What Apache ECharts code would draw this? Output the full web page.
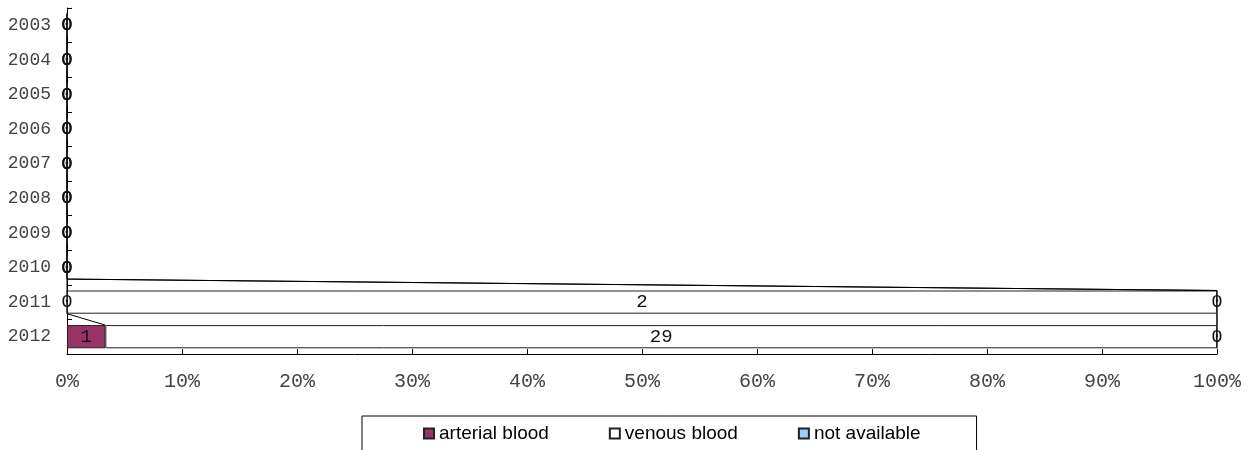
<!DOCTYPE html>
<html>
<head>
<meta charset="utf-8">
<script src="https://cdn.jsdelivr.net/npm/echarts@6/dist/echarts.min.js"></script>
<style>
html,body{margin:0;padding:0;background:#fff;}
#chart{width:1254px;height:450px;}
</style>
</head>
<body>
<div id="chart"></div>
<script>
const years = ['2003','2004','2005','2006','2007','2008','2009','2010','2011','2012'];
const arterial = [0,0,0,0,0,0,0,0,0,1];
const venous   = [0,0,0,0,0,0,0,0,2,29];
const notAvail = [0,0,0,0,0,0,0,0,0,0];
const seriesNames = ['arterial blood','venous blood','not available'];
const xTicks = [0,10,20,30,40,50,60,70,80,90,100];

const raw = [arterial, venous, notAvail];
const totals = years.map((_, i) => raw.reduce((s, a) => s + a[i], 0));
const pct = raw.map(a => a.map((v, i) => totals[i] ? v / totals[i] * 100 : 0));
// cumulative ends per series
const cum = pct.map((a, s) => a.map((v, i) => pct.slice(0, s + 1).reduce((t, b) => t + b[i], 0)));

const colors = ['#993366', '#ffffff', '#99ccff'];
const GAP = 0.33;

const barSeries = seriesNames.map((name, s) => ({
  name: name,
  type: 'bar',
  stack: 'total',
  barCategoryGap: (GAP * 100) + '%',
  data: pct[s].map((v, i) => ({ value: v, raw: raw[s][i] })),
  itemStyle: { color: colors[s], borderColor: '#222', borderWidth: 1 },
  label: {
    show: true,
    position: 'inside',
    formatter: p => String(p.data.raw),
    fontFamily: 'Liberation Mono',
    fontSize: 19,
    color: '#111'
  },
  emphasis: { disabled: true },
  z: 2
}));

const lineData = [];
for (let s = 0; s < seriesNames.length; s++) {
  for (let i = 0; i < years.length - 1; i++) {
    lineData.push([cum[s][i], cum[s][i + 1], i]);
  }
}

const seriesLines = {
  type: 'custom',
  name: 'serieslines',
  renderItem: function (params, api) {
    const x0 = api.value(0), x1 = api.value(1), c = api.value(2);
    const p0 = api.coord([x0, c]);
    const p1 = api.coord([x1, c + 1]);
    const band = api.size([0, 1])[1];
    const h = band * (1 - GAP) / 2;
    return {
      type: 'line',
      shape: { x1: p0[0], y1: p0[1] + h, x2: p1[0], y2: p1[1] - h },
      style: { stroke: '#000', lineWidth: 1 }
    };
  },
  encode: { x: [0, 1], y: 2 },
  data: lineData,
  clip: false,
  silent: true,
  z: 3
};

const chart = echarts.init(document.getElementById('chart'), null, { renderer: 'canvas' });
chart.setOption({
  animation: false,
  backgroundColor: '#fff',
  grid: { left: 67, right: 37, top: 8, bottom: 96, containLabel: false },
  xAxis: {
    type: 'value',
    min: 0, max: 100, interval: 10,
    axisLine: { show: true, lineStyle: { color: '#000', width: 1 } },
    axisTick: { show: true, inside: true, length: 5, lineStyle: { color: '#000' } },
    splitLine: { show: false },
    axisLabel: {
      formatter: v => xTicks.includes(v) ? v + '%' : '',
      fontFamily: 'Liberation Mono',
      fontSize: 20,
      color: '#444',
      margin: 18
    }
  },
  yAxis: {
    type: 'category',
    data: years,
    inverse: true,
    axisLine: { show: true, lineStyle: { color: '#000', width: 1 } },
    axisTick: { show: true, inside: true, length: 5, alignWithLabel: false, lineStyle: { color: '#000' } },
    axisLabel: {
      fontFamily: 'Liberation Mono',
      fontSize: 18,
      color: '#444',
      margin: 16
    }
  },
  legend: {
    data: seriesNames,
    left: 362,
    top: 416,
    orient: 'horizontal',
    padding: [8, 56, 40, 61],
    borderColor: '#000',
    borderWidth: 1,
    itemWidth: 10,
    itemHeight: 10,
    itemGap: 60,
    icon: 'rect',
    selectedMode: false,
    textStyle: { fontFamily: 'Liberation Sans', fontSize: 19, color: '#000' }
  },
  series: [...barSeries, seriesLines]
});
</script>
</body>
</html>
